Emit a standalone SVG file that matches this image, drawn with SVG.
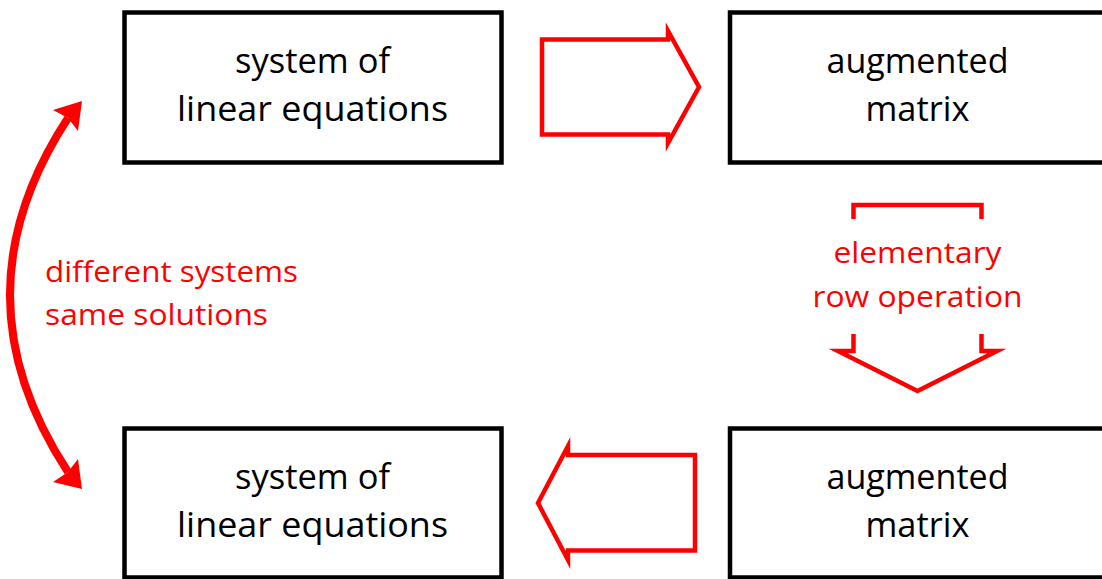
<svg xmlns="http://www.w3.org/2000/svg" width="1102" height="579" viewBox="0 0 1102 579">
<style>
.box{fill:#fff;stroke:#000;stroke-width:4.5}
.t{font-family:"Open Sans","DejaVu Sans",sans-serif;font-size:34px;fill:#000;text-anchor:middle}
.rt{font-family:"Open Sans","DejaVu Sans",sans-serif;font-size:30px;fill:#f00}
.arr{fill:none;stroke:#f00;stroke-width:4.5;stroke-linejoin:miter;stroke-miterlimit:12}
</style>
<rect width="1102" height="579" fill="#fff"/>
<g id="sys1">
<rect class="box" x="124.5" y="12.5" width="377" height="150"/>
<text class="t" x="312.5" y="73" textLength="155" lengthAdjust="spacingAndGlyphs">system of</text>
<text class="t" x="312.5" y="121" textLength="271" lengthAdjust="spacingAndGlyphs">linear equations</text>
</g>
<g id="aug1">
<rect class="box" x="730" y="12.5" width="375" height="150"/>
<text class="t" x="917.5" y="73" textLength="182" lengthAdjust="spacingAndGlyphs">augmented</text>
<text class="t" x="917.5" y="121" textLength="104" lengthAdjust="spacingAndGlyphs">matrix</text>
</g>
<g id="sys2">
<rect class="box" x="124.5" y="428.5" width="377" height="149"/>
<text class="t" x="312.5" y="489" textLength="155" lengthAdjust="spacingAndGlyphs">system of</text>
<text class="t" x="312.5" y="537" textLength="271" lengthAdjust="spacingAndGlyphs">linear equations</text>
</g>
<g id="aug2">
<rect class="box" x="730" y="428.5" width="375" height="149"/>
<text class="t" x="917.5" y="489" textLength="182" lengthAdjust="spacingAndGlyphs">augmented</text>
<text class="t" x="917.5" y="537" textLength="104" lengthAdjust="spacingAndGlyphs">matrix</text>
</g>
<g id="connectors">
<polygon class="arr" points="542,39.5 668,39.5 668,31 699,87 668,143 668,134.5 542,134.5"/>
<polygon class="arr" points="853.5,205 981.5,205 981.5,351 997,351 917.5,391 838,351 853.5,351"/>
<rect x="800" y="219" width="240" height="115" fill="#fff"/>
<text class="rt" x="917.5" y="263" text-anchor="middle" textLength="168" lengthAdjust="spacingAndGlyphs">elementary</text>
<text class="rt" x="917.5" y="307" text-anchor="middle" textLength="210" lengthAdjust="spacingAndGlyphs">row operation</text>
<polygon class="arr" points="695,455 568,455 568,446 538,503 568,560 568,550.5 695,550.5"/>
<path d="M68,118 Q-48,295 68,472" fill="none" stroke="#f00" stroke-width="8"/>
<polygon points="82,101 53,110 68,118 78,131" fill="#f00"/>
<polygon points="82,489 53,482 68,472 78,459" fill="#f00"/>
<text class="rt" x="45" y="282" textLength="253" lengthAdjust="spacingAndGlyphs">different systems</text>
<text class="rt" x="45" y="325" textLength="223" lengthAdjust="spacingAndGlyphs">same solutions</text>
</g>
</svg>
